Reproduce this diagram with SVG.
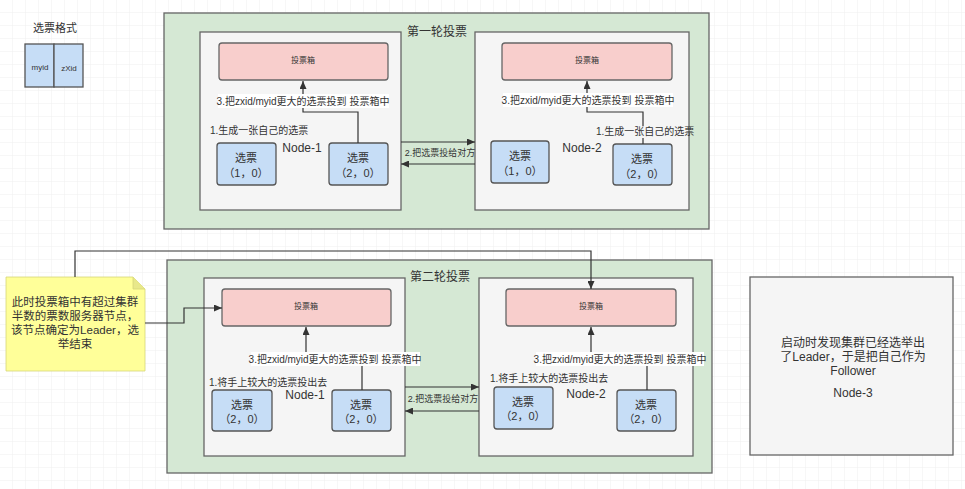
<svg xmlns="http://www.w3.org/2000/svg" width="965" height="489" viewBox="0 0 965 489">
<style>
text{font-family:"Liberation Sans","Noto Sans CJK SC",sans-serif;fill:#333;}
.grp{fill:#d5e8d4;stroke:#666;stroke-width:1.3;}
.node{fill:#f5f5f5;stroke:#666;stroke-width:1.3;}
.box{fill:#f8cecc;stroke:#666;stroke-width:1.3;}
.ballot{fill:#c6ddf6;stroke:#555;stroke-width:1.3;}
.con{fill:none;stroke:#333;stroke-width:1.2;}
.lbl{fill:#fff;}
.t13{font-size:12px;}
.t11{font-size:11px;text-anchor:middle;}
.t10{font-size:10px;}
.t9{font-size:9px;text-anchor:middle;}
.t8{font-size:8px;text-anchor:middle;}
.mid{text-anchor:middle;}
.nt{font-size:11.5px;text-anchor:middle;}
</style>
<defs>
<pattern id="grid" width="13" height="13" patternUnits="userSpaceOnUse">
<path d="M13,0 V13 M0,13 H13" fill="none" stroke="#efefef" stroke-width="1"/>
</pattern>
<marker id="arr" viewBox="0 0 8 7" refX="8" refY="3.5" markerWidth="8" markerHeight="7" markerUnits="userSpaceOnUse" orient="auto">
<path d="M0,0 L8,3.5 L0,7 Z" fill="#333"/>
</marker>
</defs>
<rect width="965" height="489" fill="#fff"/>
<rect width="965" height="489" fill="url(#grid)"/>

<g id="legend">
<text x="55" y="32" class="t13 mid" style="font-size:11px">选票格式</text>
<rect x="25" y="44" width="29" height="43" class="ballot"/>
<rect x="54" y="44" width="29" height="43" class="ballot"/>
<text x="40" y="70" class="t8">myid</text>
<text x="69" y="71" class="t8">zXid</text>
</g>

<g id="round1">
<rect x="164" y="13" width="545" height="216" class="grp"/>
<text x="437" y="36" class="t13 mid">第一轮投票</text>
</g>
<g id="r1-node1">
<rect x="200" y="32" width="201" height="178" class="node"/>
<text x="302" y="152" class="t11" style="font-size:12px">Node-1</text>
<text x="210" y="134" class="t10">1.生成一张自己的选票</text>
</g>
<g id="r1-box1">
<rect x="219" y="43" width="169" height="37" rx="3" class="box"/>
<text x="303" y="63" class="t8">投票箱</text>
</g>
<g id="r1-n1-b1">
<rect x="217" y="143" width="59" height="42" rx="3" class="ballot"/>
<text x="246" y="162" class="t11">选票</text>
<text x="246" y="177" class="t11">（1，0）</text>
</g>
<g id="r1-n1-b2">
<rect x="329" y="143" width="59" height="42" rx="3" class="ballot"/>
<text x="358" y="162" class="t11">选票</text>
<text x="358" y="177" class="t11">（2，0）</text>
</g>
<g id="r1-node2">
<rect x="475" y="32" width="214" height="178" class="node"/>
<text x="582" y="152" class="t11" style="font-size:12px">Node-2</text>
</g>
<g id="r1-box2">
<rect x="502" y="43" width="170" height="37" rx="3" class="box"/>
<text x="587" y="63" class="t8">投票箱</text>
</g>
<g id="r1-n2-b1">
<rect x="491" y="141" width="58" height="42" rx="3" class="ballot"/>
<text x="520" y="160" class="t11">选票</text>
<text x="520" y="175" class="t11">（1，0）</text>
</g>
<g id="r1-n2-b2">
<rect x="613" y="144" width="59" height="41" rx="3" class="ballot"/>
<text x="642" y="163" class="t11">选票</text>
<text x="642" y="178" class="t11">（2，0）</text>
</g>

<g id="round2">
<rect x="167" y="260" width="545" height="213" class="grp"/>
<text x="440" y="281" class="t13 mid">第二轮投票</text>
</g>
<g id="r2-node1">
<rect x="204" y="278" width="201" height="178" class="node"/>
<text x="305" y="399" class="t11" style="font-size:12px">Node-1</text>
<text x="209" y="386" class="t10">1.将手上较大的选票投出去</text>
</g>
<g id="r2-box1">
<rect x="222" y="289" width="169" height="37" rx="3" class="box"/>
<text x="306" y="309" class="t8">投票箱</text>
</g>
<g id="r2-n1-b1">
<rect x="212" y="390" width="60" height="41" rx="3" class="ballot"/>
<text x="242" y="409" class="t11">选票</text>
<text x="242" y="423" class="t11">（2，0）</text>
</g>
<g id="r2-n1-b2">
<rect x="332" y="390" width="59" height="41" rx="3" class="ballot"/>
<text x="361" y="409" class="t11">选票</text>
<text x="361" y="423" class="t11">（2，0）</text>
</g>
<g id="r2-node2">
<rect x="479" y="278" width="214" height="178" class="node"/>
<text x="586" y="398" class="t11" style="font-size:12px">Node-2</text>
</g>
<g id="r2-box2">
<rect x="506" y="289" width="170" height="37" rx="3" class="box"/>
<text x="591" y="309" class="t8">投票箱</text>
</g>
<g id="r2-n2-b1">
<rect x="494" y="387" width="59" height="42" rx="3" class="ballot"/>
<text x="523" y="406" class="t11">选票</text>
<text x="523" y="420" class="t11">（2，0）</text>
</g>
<g id="r2-n2-b2">
<rect x="617" y="390" width="59" height="41" rx="3" class="ballot"/>
<text x="646" y="409" class="t11">选票</text>
<text x="646" y="423" class="t11">（2，0）</text>
</g>

<g id="note">
<path d="M6,277 H133 L145,289 V371 H6 Z" fill="#ffff99" stroke="#d6d67a" stroke-width="0.8"/>
<path d="M133,277 V289 H145" fill="#e8e88a" stroke="#d6d67a" stroke-width="0.8"/>
<text x="75" y="306" class="nt">此时投票箱中有超过集群</text>
<text x="75" y="320" class="nt">半数的票数服务器节点，</text>
<text x="75" y="334" class="nt">该节点确定为Leader，选</text>
<text x="75" y="348" class="nt">举结束</text>
</g>

<g id="node3">
<rect x="750" y="277" width="203" height="178" class="node"/>
<text x="853" y="347" class="t13 mid">启动时发现集群已经选举出</text>
<text x="853" y="361" class="t13 mid">了Leader，于是把自己作为</text>
<text x="853" y="375" class="t13 mid">Follower</text>
<text x="853" y="397" class="t13 mid">Node-3</text>
</g>

<g id="connectors">
<path d="M358,143 V112 H303 V81" class="con" marker-end="url(#arr)"/>
<path d="M643,144 V112 H587 V81" class="con" marker-end="url(#arr)"/>
<path d="M401,142 H475" class="con" marker-end="url(#arr)"/>
<path d="M475,164 H401" class="con" marker-end="url(#arr)"/>
<path d="M362,390 V359 H306 V327" class="con" marker-end="url(#arr)"/>
<path d="M647,390 V359 H591 V327" class="con" marker-end="url(#arr)"/>
<path d="M405,387 H479" class="con" marker-end="url(#arr)"/>
<path d="M479,411 H405" class="con" marker-end="url(#arr)"/>
<path d="M75,277 V251 H591 V289" class="con" marker-end="url(#arr)"/>
<path d="M145,323 H184 V308 H222" class="con" marker-end="url(#arr)"/>

<rect x="218" y="94" width="171" height="14" class="lbl"/>
<text x="303" y="105" class="t9" style="font-size:10px">3.把zxid/myid更大的选票投到 投票箱中</text>
<rect x="503" y="93" width="170" height="14" class="lbl"/>
<text x="588" y="104" class="t9" style="font-size:10px">3.把zxid/myid更大的选票投到 投票箱中</text>
<rect x="251" y="352" width="169" height="14" class="lbl"/>
<text x="335" y="363" class="t9" style="font-size:10px">3.把zxid/myid更大的选票投到 投票箱中</text>
<rect x="536" y="352" width="168" height="14" class="lbl"/>
<text x="620" y="363" class="t9" style="font-size:10px">3.把zxid/myid更大的选票投到 投票箱中</text>

<text x="440" y="156" class="t9">2.把选票投给对方</text>
<text x="443" y="402" class="t9">2.把选票投给对方</text>
<rect x="596" y="126" width="88" height="12" fill="#f5f5f5"/>
<text x="596" y="135" class="t10">1.生成一张自己的选票</text>
<text x="490" y="382" class="t10">1.将手上较大的选票投出去</text>
</g>
</svg>
